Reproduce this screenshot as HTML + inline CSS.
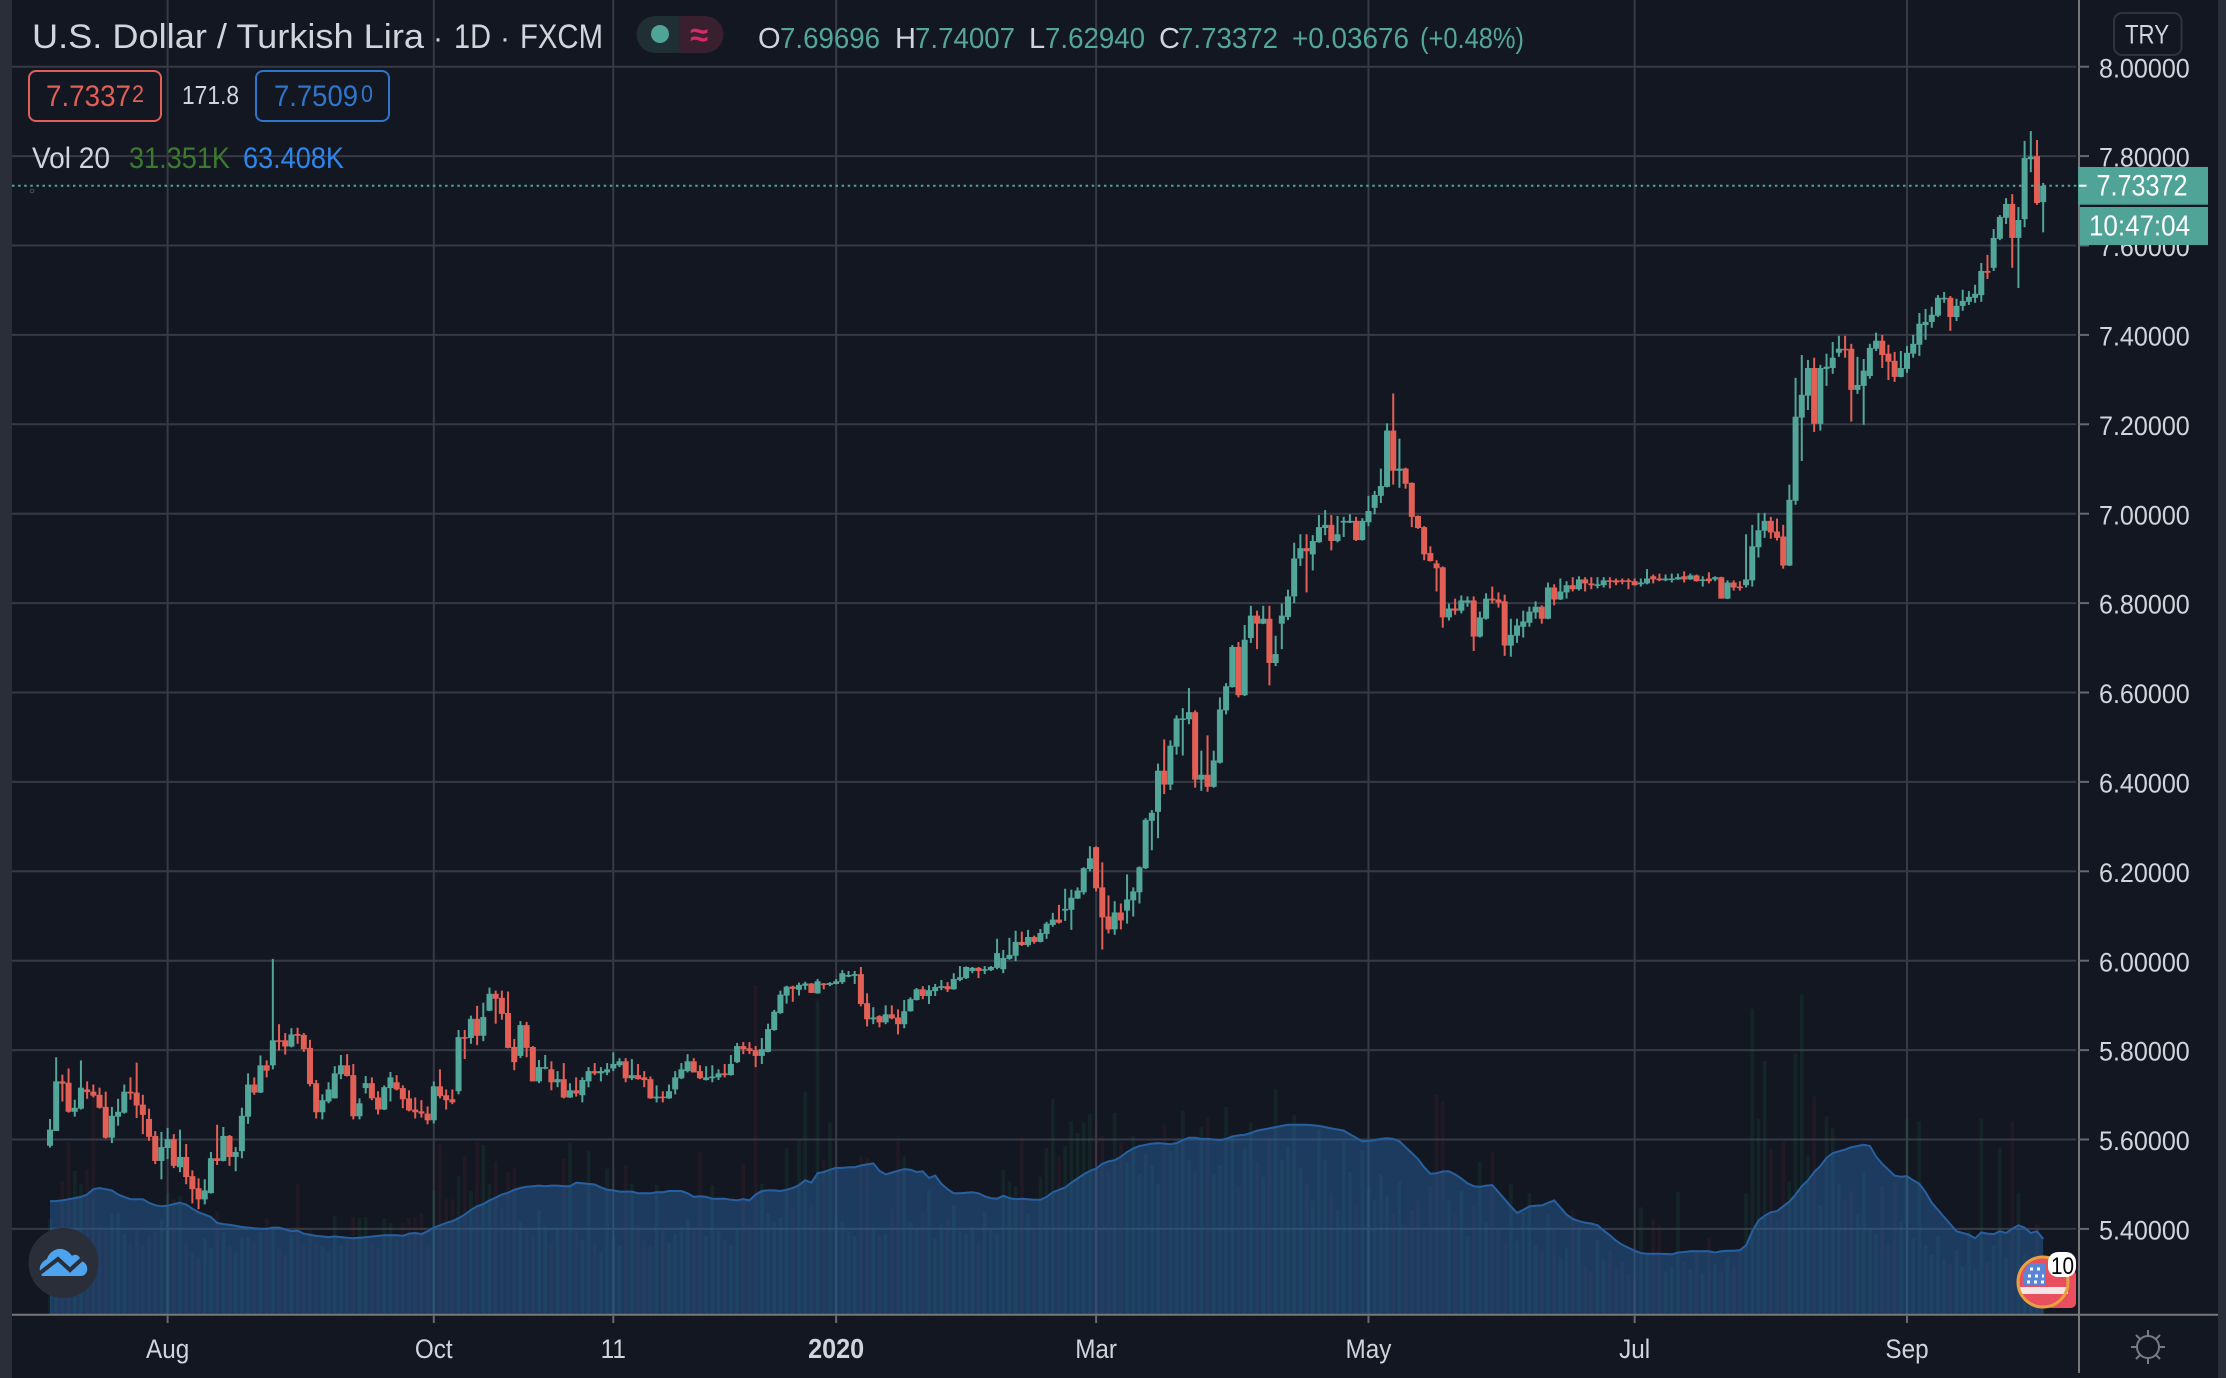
<!DOCTYPE html>
<html lang="en">
<head>
<meta charset="utf-8">
<title>U.S. Dollar / Turkish Lira 1D FXCM</title>
<style>
html,body{margin:0;padding:0;background:#131722;width:2226px;height:1378px;overflow:hidden}
svg{display:block;position:absolute;left:0;top:0}
text{font-family:"Liberation Sans",sans-serif;fill:#d1d4dc}
</style>
</head>
<body>
<svg id="chart" xmlns="http://www.w3.org/2000/svg" width="2226" height="1378" viewBox="0 0 2226 1378">
  <rect x="0" y="0" width="2226" height="1378" fill="#131722"/>
  <rect x="0" y="0" width="12" height="1378" fill="#2a2e39"/>
  <rect x="2218" y="0" width="8" height="1378" fill="#2a2e39"/>
  <g id="grid"></g>
  <g id="volumes"></g>
  <path id="maArea" fill="#2b69aa" fill-opacity="0.45"/>
  <path id="maLine" fill="none" stroke="#27609f" stroke-width="2"/>
  <g id="candles"></g>
  <line id="lastLine" x1="12" x2="2079" stroke="#4fa397" stroke-width="2" stroke-dasharray="2.5 3.6"/>
  <circle cx="32" cy="191" r="1.8" fill="none" stroke="#4a4e5a" stroke-width="1"/>

  <line x1="2079" y1="0" x2="2079" y2="1373" stroke="#787878" stroke-width="2"/>
  <line x1="12" y1="1314.7" x2="2218" y2="1314.7" stroke="#787878" stroke-width="2"/>
  <g id="priceAxis"></g>
  <g id="timeAxis"></g>

  <!-- legend -->
  <g>
    <text x="32" y="48" font-size="34" textLength="392" lengthAdjust="spacingAndGlyphs" fill="#dcdde2">U.S. Dollar / Turkish Lira</text>
    <text x="433" y="48" font-size="30" fill="#70747f">·</text>
    <text x="454" y="48" font-size="34" textLength="37" lengthAdjust="spacingAndGlyphs" fill="#dcdde2">1D</text>
    <text x="500" y="48" font-size="30" fill="#70747f">·</text>
    <text x="520" y="48" font-size="34" textLength="83" lengthAdjust="spacingAndGlyphs" fill="#dcdde2">FXCM</text>

    <path d="M679 16H655a18.500 18.500 0 0 0 0 37H679Z" fill="#1f2f34"/>
    <path d="M679 16H705a18.500 18.500 0 0 1 0 37H679Z" fill="#38202f"/>
    <circle cx="660" cy="34" r="9" fill="#4fa397"/>
    <text x="699" y="46" font-size="33" font-weight="bold" text-anchor="middle" style="fill:#d42a66">≈</text>

    <text x="758" y="48" font-size="29" fill="#d1d4dc">O</text>
    <text x="780" y="48" font-size="29" textLength="100" lengthAdjust="spacingAndGlyphs" style="fill:#53a69a">7.69696</text>
    <text x="895" y="48" font-size="29" fill="#d1d4dc">H</text>
    <text x="915" y="48" font-size="29" textLength="100" lengthAdjust="spacingAndGlyphs" style="fill:#53a69a">7.74007</text>
    <text x="1029" y="48" font-size="29" fill="#d1d4dc">L</text>
    <text x="1045" y="48" font-size="29" textLength="100" lengthAdjust="spacingAndGlyphs" style="fill:#53a69a">7.62940</text>
    <text x="1159" y="48" font-size="29" fill="#d1d4dc">C</text>
    <text x="1178" y="48" font-size="29" textLength="100" lengthAdjust="spacingAndGlyphs" style="fill:#53a69a">7.73372</text>
    <text x="1292" y="48" font-size="29" textLength="117" lengthAdjust="spacingAndGlyphs" style="fill:#53a69a">+0.03676</text>
    <text x="1420" y="48" font-size="29" textLength="104" lengthAdjust="spacingAndGlyphs" style="fill:#53a69a">(+0.48%)</text>

    <rect x="29" y="71" width="132" height="50" rx="7" fill="#131722" stroke="#e25f56" stroke-width="2"/>
    <text x="46" y="106" font-size="30" textLength="85" lengthAdjust="spacingAndGlyphs" style="fill:#e25f56">7.7337</text>
    <text x="132" y="102" font-size="24" textLength="12" lengthAdjust="spacingAndGlyphs" style="fill:#e25f56">2</text>
    <text x="182" y="104" font-size="26" textLength="57" lengthAdjust="spacingAndGlyphs" fill="#d1d4dc">171.8</text>
    <rect x="256" y="71" width="133" height="50" rx="7" fill="#131722" stroke="#2f75c9" stroke-width="2"/>
    <text x="274" y="106" font-size="30" textLength="84" lengthAdjust="spacingAndGlyphs" style="fill:#2f75c9">7.7509</text>
    <text x="361" y="102" font-size="24" textLength="12" lengthAdjust="spacingAndGlyphs" style="fill:#2f75c9">0</text>

    <text x="32" y="168" font-size="30" textLength="78" lengthAdjust="spacingAndGlyphs" fill="#dcdde2">Vol 20</text>
    <text x="129" y="168" font-size="30" textLength="101" lengthAdjust="spacingAndGlyphs" style="fill:#3c7a2e">31.351K</text>
    <text x="243" y="168" font-size="30" textLength="101" lengthAdjust="spacingAndGlyphs" style="fill:#2f86ea">63.408K</text>
  </g>

  <!-- currency button -->
  <rect x="2114" y="13" width="67.500" height="42" rx="8" fill="#131722" stroke="#2f3341" stroke-width="2"/>
  <text x="2125" y="43.500" font-size="27" textLength="44" lengthAdjust="spacingAndGlyphs" fill="#d1d4dc">TRY</text>

  <!-- last price + countdown badges -->
  <rect x="2078" y="167" width="130" height="37.700" fill="#4fa397"/>
  <rect x="2079" y="184.700" width="7.500" height="2" fill="#ffffff"/>
  <text x="2096.500" y="195.500" font-size="30" textLength="91" lengthAdjust="spacingAndGlyphs" style="fill:#ffffff">7.73372</text>
  <rect x="2080" y="207" width="128" height="38" fill="#4fa397"/>
  <text x="2089" y="235.500" font-size="29" textLength="101" lengthAdjust="spacingAndGlyphs" style="fill:#ffffff">10:47:04</text>

  <!-- tradingview logo -->
  <g>
    <circle cx="63.500" cy="1263" r="35" fill="#2a2e39"/>
    <path d="M42 1276C38 1270 39 1263 47 1259C49 1252 56 1248 62 1249C67 1250 70 1253 72 1256C76 1253 80 1256 81 1261C86 1262 88 1267 87 1271C86 1274 84 1276 81 1276Z" fill="#4ea3ee"/>
    <path d="M40 1273L58 1259L70 1270L82 1259" fill="none" stroke="#2a2e39" stroke-width="4"/>
  </g>

  <!-- economic event icon -->
  <g>
    <rect x="2046" y="1270" width="30" height="38" rx="5" fill="#e8505f"/>
    <circle cx="2043" cy="1282" r="25" fill="#e8505f"/>
    <rect x="2020" y="1287" width="48" height="7" fill="#f4e6e6"/>
    <path d="M2045 1263H2030C2025 1268 2022 1275 2023 1285H2045Z" fill="#5a86d6"/>
    <path d="M2030 1269H2044M2028 1276H2044M2027 1282H2044" stroke="#ffffff" stroke-width="3" stroke-dasharray="3 4" fill="none"/>
    <circle cx="2043" cy="1282" r="25" fill="none" stroke="#e8a13c" stroke-width="3"/>
    <rect x="2048" y="1252" width="28" height="25" rx="10" fill="#ffffff"/>
    <text x="2051" y="1274" font-size="24" textLength="23" lengthAdjust="spacingAndGlyphs" style="fill:#000000">10</text>
  </g>

  <!-- settings sun icon -->
  <g fill="none" stroke="#787b86" stroke-width="2">
    <circle cx="2148" cy="1347" r="11"/>
    <path d="M2148 1330V1336M2148 1358V1364M2131 1347H2137M2159 1347H2165M2136 1335L2140 1339M2156 1355L2160 1359M2160 1335L2156 1339M2140 1355L2136 1359"/>
  </g>
</svg>

<script>
// ---- chart data (prices in TRY, volumes in thousands) ----
const opens = [
5.586,5.619,5.730,5.727,5.662,5.669,5.712,5.707,5.700,5.673,
5.604,5.651,5.660,5.707,5.705,5.678,5.646,5.608,5.552,5.581,
5.601,5.538,5.561,5.518,5.491,5.466,5.480,5.558,5.552,5.608,
5.561,5.574,5.651,5.723,5.705,5.766,5.766,5.822,5.822,5.808,
5.836,5.834,5.805,5.726,5.661,5.685,5.692,5.746,5.766,5.744,
5.652,5.715,5.726,5.694,5.667,5.715,5.728,5.715,5.692,5.667,
5.663,5.658,5.643,5.719,5.699,5.690,5.708,5.829,5.827,5.870,
5.832,5.888,5.926,5.917,5.883,5.807,5.787,5.856,5.807,5.730,
5.759,5.757,5.728,5.735,5.694,5.710,5.699,5.730,5.753,5.748,
5.750,5.759,5.766,5.775,5.737,5.744,5.739,5.735,5.692,5.696,
5.692,5.712,5.737,5.753,5.775,5.753,5.733,5.737,5.739,5.748,
5.744,5.773,5.809,5.804,5.800,5.787,5.796,5.845,5.883,5.922,
5.942,5.935,5.944,5.949,5.927,5.949,5.946,5.948,5.952,5.965,
5.966,5.970,5.905,5.869,5.876,5.862,5.880,5.873,5.858,5.887,
5.912,5.936,5.921,5.932,5.939,5.943,5.936,5.957,5.961,5.977,
5.984,5.979,5.979,5.984,5.981,6.004,6.011,6.042,6.035,6.053,
6.042,6.060,6.080,6.092,6.112,6.114,6.139,6.153,6.205,6.254,
6.164,6.099,6.070,6.108,6.112,6.135,6.153,6.207,6.313,6.333,
6.425,6.394,6.479,6.541,6.540,6.556,6.405,6.416,6.389,6.443,
6.560,6.612,6.702,6.594,6.722,6.772,6.754,6.765,6.666,6.754,
6.769,6.815,6.900,6.923,6.909,6.936,6.968,6.975,6.939,6.980,
6.980,6.984,6.941,6.981,7.013,7.040,7.060,7.186,7.096,7.101,
7.069,6.995,6.970,6.912,6.889,6.880,6.768,6.788,6.783,6.801,
6.806,6.725,6.765,6.810,6.808,6.804,6.705,6.727,6.747,6.756,
6.779,6.792,6.765,6.835,6.808,6.824,6.840,6.831,6.853,6.844,
6.840,6.840,6.851,6.851,6.851,6.851,6.849,6.842,6.844,6.860,
6.855,6.851,6.853,6.853,6.860,6.853,6.862,6.851,6.855,6.853,
6.858,6.810,6.846,6.837,6.840,6.851,6.925,6.962,6.984,6.960,
6.949,6.884,7.029,7.215,7.264,7.326,7.201,7.324,7.326,7.360,
7.369,7.369,7.277,7.286,7.308,7.369,7.387,7.358,7.342,7.306,
7.324,7.358,7.378,7.422,7.429,7.443,7.481,7.483,7.440,7.465,
7.474,7.483,7.489,7.543,7.550,7.615,7.662,7.693,7.617,7.659,
7.793,7.800,7.69696];
const highs = [
5.646,5.784,5.745,5.759,5.689,5.777,5.730,5.723,5.716,5.707,
5.673,5.691,5.723,5.739,5.772,5.700,5.669,5.619,5.617,5.626,
5.612,5.622,5.590,5.531,5.513,5.511,5.572,5.633,5.628,5.610,
5.583,5.671,5.748,5.739,5.788,5.777,6.004,5.858,5.838,5.849,
5.850,5.838,5.823,5.733,5.701,5.728,5.764,5.789,5.791,5.769,
5.692,5.742,5.739,5.708,5.721,5.751,5.744,5.721,5.710,5.694,
5.688,5.674,5.730,5.757,5.712,5.712,5.845,5.845,5.877,5.899,
5.906,5.940,5.933,5.933,5.931,5.825,5.865,5.863,5.809,5.778,
5.789,5.775,5.753,5.771,5.726,5.739,5.739,5.762,5.771,5.762,
5.771,5.795,5.782,5.782,5.780,5.769,5.753,5.741,5.721,5.708,
5.723,5.753,5.771,5.791,5.782,5.766,5.764,5.766,5.757,5.769,
5.789,5.816,5.818,5.818,5.809,5.827,5.859,5.890,5.933,5.944,
5.944,5.951,5.953,5.950,5.959,5.950,5.952,5.959,5.979,5.977,
5.977,5.986,5.927,5.896,5.878,5.900,5.900,5.891,5.912,5.918,
5.939,5.943,5.945,5.948,5.957,5.952,5.972,5.988,5.987,5.986,
5.986,5.988,5.988,6.049,6.024,6.051,6.067,6.065,6.069,6.056,
6.071,6.087,6.107,6.125,6.161,6.159,6.164,6.209,6.256,6.256,
6.220,6.146,6.133,6.128,6.193,6.164,6.211,6.319,6.337,6.441,
6.495,6.493,6.549,6.565,6.610,6.560,6.470,6.504,6.470,6.589,
6.621,6.706,6.713,6.751,6.794,6.783,6.794,6.794,6.727,6.799,
6.830,6.935,6.954,6.954,6.952,6.997,7.008,6.997,6.995,6.993,
6.999,6.993,6.990,7.040,7.051,7.101,7.202,7.269,7.168,7.103,
7.070,6.996,6.972,6.927,6.896,6.882,6.799,6.810,6.817,6.815,
6.815,6.781,6.822,6.837,6.824,6.819,6.765,6.765,6.783,6.792,
6.804,6.795,6.846,6.842,6.855,6.849,6.858,6.860,6.858,6.858,
6.858,6.858,6.858,6.855,6.855,6.855,6.855,6.855,6.876,6.864,
6.866,6.864,6.866,6.866,6.871,6.866,6.864,6.860,6.869,6.860,
6.859,6.851,6.851,6.849,6.954,6.975,7.002,7.002,6.993,6.989,
6.975,7.065,7.304,7.355,7.344,7.349,7.333,7.358,7.384,7.398,
7.398,7.380,7.351,7.346,7.380,7.405,7.400,7.378,7.362,7.364,
7.375,7.400,7.449,7.458,7.463,7.489,7.496,7.487,7.481,7.501,
7.498,7.512,7.561,7.579,7.637,7.668,7.706,7.715,7.686,7.834,
7.856,7.836,7.74007];
const lows = [
5.582,5.619,5.685,5.660,5.651,5.667,5.691,5.694,5.669,5.602,
5.592,5.631,5.658,5.689,5.648,5.612,5.597,5.545,5.511,5.556,
5.536,5.527,5.500,5.457,5.444,5.455,5.479,5.543,5.551,5.541,
5.529,5.558,5.635,5.700,5.704,5.739,5.757,5.799,5.790,5.806,
5.814,5.796,5.719,5.647,5.645,5.681,5.692,5.735,5.741,5.645,
5.645,5.703,5.688,5.656,5.666,5.685,5.710,5.670,5.663,5.647,
5.649,5.634,5.636,5.692,5.667,5.679,5.701,5.780,5.814,5.811,
5.820,5.887,5.859,5.868,5.804,5.755,5.782,5.784,5.730,5.726,
5.757,5.710,5.717,5.692,5.693,5.696,5.683,5.717,5.744,5.730,
5.744,5.753,5.762,5.728,5.733,5.734,5.717,5.691,5.683,5.683,
5.691,5.701,5.735,5.750,5.750,5.735,5.732,5.728,5.733,5.739,
5.743,5.771,5.791,5.791,5.762,5.769,5.795,5.843,5.881,5.904,
5.908,5.922,5.935,5.928,5.926,5.936,5.943,5.947,5.948,5.963,
5.948,5.898,5.853,5.858,5.851,5.858,5.869,5.835,5.849,5.886,
5.911,5.914,5.903,5.921,5.934,5.930,5.935,5.954,5.959,5.972,
5.961,5.970,5.977,5.981,5.972,6.002,5.999,6.033,6.031,6.038,
6.041,6.049,6.076,6.083,6.089,6.069,6.138,6.148,6.200,6.155,
6.025,6.061,6.058,6.070,6.083,6.099,6.128,6.205,6.247,6.274,
6.373,6.382,6.461,6.459,6.529,6.387,6.380,6.378,6.387,6.441,
6.551,6.611,6.589,6.592,6.711,6.697,6.753,6.616,6.659,6.697,
6.762,6.800,6.883,6.824,6.873,6.935,6.952,6.918,6.936,6.948,
6.979,6.939,6.940,6.972,6.999,7.024,7.059,7.065,7.058,7.056,
6.970,6.966,6.896,6.893,6.826,6.745,6.761,6.774,6.777,6.792,
6.693,6.723,6.763,6.799,6.790,6.682,6.680,6.711,6.723,6.747,
6.765,6.754,6.764,6.795,6.807,6.810,6.826,6.828,6.826,6.831,
6.833,6.835,6.833,6.840,6.842,6.831,6.839,6.837,6.842,6.844,
6.849,6.849,6.846,6.852,6.846,6.852,6.848,6.837,6.844,6.849,
6.810,6.809,6.828,6.828,6.835,6.837,6.902,6.946,6.944,6.940,
6.877,6.883,7.020,7.118,7.232,7.183,7.186,7.286,7.313,7.351,
7.349,7.206,7.268,7.199,7.302,7.364,7.326,7.299,7.295,7.305,
7.315,7.349,7.353,7.389,7.416,7.440,7.472,7.409,7.431,7.454,
7.467,7.472,7.474,7.525,7.543,7.612,7.648,7.550,7.505,7.641,
7.764,7.691,7.6294];
const closes = [
5.622,5.730,5.725,5.662,5.671,5.716,5.706,5.698,5.671,5.604,
5.653,5.662,5.707,5.703,5.676,5.655,5.606,5.552,5.583,5.601,
5.541,5.561,5.516,5.489,5.466,5.486,5.558,5.552,5.608,5.561,
5.572,5.653,5.723,5.705,5.766,5.754,5.822,5.820,5.808,5.835,
5.832,5.802,5.724,5.661,5.688,5.712,5.748,5.766,5.742,5.652,
5.681,5.726,5.692,5.667,5.717,5.739,5.712,5.690,5.665,5.661,
5.658,5.643,5.719,5.697,5.688,5.683,5.829,5.827,5.870,5.832,
5.874,5.926,5.915,5.881,5.805,5.773,5.856,5.805,5.730,5.762,
5.762,5.728,5.735,5.694,5.710,5.703,5.733,5.753,5.748,5.753,
5.757,5.769,5.775,5.737,5.744,5.735,5.733,5.692,5.696,5.694,
5.708,5.739,5.757,5.775,5.750,5.737,5.739,5.741,5.748,5.744,
5.769,5.809,5.802,5.798,5.787,5.802,5.847,5.886,5.924,5.942,
5.937,5.946,5.949,5.928,5.954,5.946,5.950,5.954,5.972,5.968,
5.970,5.903,5.869,5.873,5.862,5.880,5.871,5.858,5.887,5.914,
5.936,5.921,5.934,5.941,5.943,5.936,5.959,5.963,5.986,5.984,
5.977,5.981,5.986,6.017,6.006,6.013,6.042,6.035,6.053,6.042,
6.062,6.083,6.092,6.085,6.116,6.141,6.157,6.207,6.229,6.162,
6.097,6.070,6.108,6.090,6.137,6.155,6.209,6.315,6.331,6.425,
6.394,6.481,6.542,6.542,6.556,6.405,6.416,6.389,6.448,6.562,
6.614,6.702,6.594,6.718,6.772,6.754,6.765,6.666,6.686,6.772,
6.815,6.900,6.923,6.916,6.939,6.970,6.975,6.939,6.954,6.984,
6.984,6.941,6.984,7.006,7.042,7.062,7.186,7.096,7.101,7.067,
6.993,6.968,6.909,6.894,6.878,6.768,6.788,6.783,6.806,6.806,
6.725,6.768,6.810,6.806,6.801,6.705,6.729,6.750,6.759,6.781,
6.792,6.765,6.835,6.808,6.826,6.840,6.831,6.853,6.844,6.840,
6.842,6.851,6.849,6.846,6.849,6.849,6.840,6.846,6.855,6.853,
6.851,6.855,6.855,6.858,6.853,6.862,6.849,6.853,6.849,6.858,
6.810,6.846,6.835,6.834,6.853,6.927,6.963,6.984,6.958,6.946,
6.884,7.031,7.217,7.266,7.326,7.201,7.326,7.329,7.349,7.369,
7.367,7.277,7.288,7.320,7.371,7.387,7.355,7.340,7.306,7.326,
7.360,7.380,7.425,7.429,7.445,7.483,7.483,7.440,7.465,7.476,
7.485,7.492,7.543,7.539,7.617,7.664,7.693,7.617,7.657,7.796,
7.799,7.695,7.73372];
const volumes = [
80,62,112,145,121,110,122,184,75,70,85,85,68,60,72,58,66,70,80,102,
97,100,60,52,48,64,56,87,69,58,52,64,65,60,69,81,72,55,50,67,
110,58,72,60,57,52,83,58,62,82,81,82,60,55,81,77,62,77,81,82,
85,58,104,143,97,97,117,133,104,145,143,110,129,90,120,123,78,70,66,88,
74,60,72,131,145,70,62,138,60,52,123,66,58,126,110,75,62,58,109,72,
60,68,74,80,70,137,66,109,70,62,58,72,127,75,278,110,85,78,82,140,
90,147,188,92,265,130,162,84,78,70,66,133,132,72,66,68,90,146,133,78,
72,86,104,64,76,80,92,70,68,74,60,86,72,68,122,112,108,149,84,72,
116,140,182,133,142,163,153,162,169,163,151,120,170,145,128,150,118,136,125,110,
160,138,148,172,130,120,158,166,118,126,175,150,108,140,162,128,116,147,190,130,
142,168,124,110,96,156,130,102,88,146,120,92,138,108,96,118,100,84,112,74,
88,96,70,108,186,179,96,84,104,66,92,129,78,137,72,60,110,62,86,102,
58,52,84,72,48,56,88,74,40,36,62,46,54,38,44,34,30,90,50,80,
75,36,40,103,44,38,52,34,64,42,36,48,40,54,102,258,165,214,139,80,
146,112,220,270,134,184,92,167,157,110,96,104,84,120,72,68,108,60,112,78,
165,64,163,58,50,66,46,42,54,40,70,38,165,44,58,140,48,163,102,50,36,76,31.351];
const volumeMA = [
95.3,95.5,96,97,98,99,101,105.5,106.5,105.5,
104.5,101,99,97,97,97,94,92,91,91.5,
93,94,92.5,89,86,84,82,77,76,75.5,
74.5,73.5,73,72.5,72,72,73,73,71.5,70,
70.5,68,67,66,65.5,65,65.5,65,64.5,64,
64.5,65,65.5,66,66.5,66.5,66.5,66,68,68.5,
67.5,70,73,75,77,78.5,81,84,88,91,
93,96,98.5,101,102.5,105,106.5,107.5,108,108.5,
108,108.5,108.5,108,108,111,110.5,110,109.5,107,
105,104.5,103.5,103.5,103.5,102,102,102,103,103,
104,104,104,102,99,99.5,99,97.5,97.5,97.5,
96.5,96,97,96,101,104,104.5,104.5,104,105,
106.5,109,113,111,119,120,122,123.5,123.5,124,
124,125.5,126.5,127.3,121,118,119.5,121,122.5,122,
120,120.5,115,117,110,105.5,102,102,102.5,103,
102,99.5,98,97.5,100,98,97,97.5,97,96.5,
96.5,99,103,105,107,111,114.5,118,121,123,
127,129,130,133,137,140,142,143,144,144.5,
144,143.5,144.5,147,149,149,148,148,147.5,147,
148,150,151,151.5,153,155,156,157,158,159,
160,160,160,160,159.5,159,158,157,156,155,
152,149,146,146.5,147,148,148.5,148,146,141,
136,131,124,118.5,119,120.5,120.5,118,114.5,110.5,
108,107.5,108.5,109,103,97,91,85.5,88,91,
91.5,91.8,94,96,90,84,80.5,78.5,77.2,76.5,
75,70.5,66.5,62,58.5,56,53.5,51.5,51,51,
51,50.7,50.5,52,52.4,53,53,53,53,52,
53,53.5,53.5,54,58,70,79,83,86,87,
91,95,101,108,113,120,125,132,136,137.5,
139,141,142,143,142,133,127,122,117,116,
116.5,113,110,103,94,88,82,76,70,68.5,
67,64,69,68,67.5,70,68.5,72,75,73,68.5,70,63.408];
const priceTicks = [8.0,7.8,7.6,7.4,7.2,7.0,6.8,6.6,6.4,6.2,6.0,5.8,5.6,5.4];
const priceTickLabels = ["8.00000","7.80000","7.60000","7.40000","7.20000","7.00000","6.80000","6.60000","6.40000","6.20000","6.00000","5.80000","5.60000","5.40000"];
const timeTickBars = [19,62,91,127,169,213,256,300];
const timeTickLabels = ["Aug","Oct","11","2020","Mar","May","Jul","Sep"];
const lastPrice = 7.73372;

// ---- axis functions ----
const SVG_NS = "http://www.w3.org/2000/svg";
function xBar(i){ return 50 + 6.19 * i; }
function yPrice(p){ return 66.7 + (8 - p) * 447; }
function yVolume(v){ return 1314 - v * 1.183; }

function make(tag, attrs, parent){
  const el = document.createElementNS(SVG_NS, tag);
  for (const k in attrs) el.setAttribute(k, attrs[k]);
  parent.appendChild(el);
  return el;
}

const GREEN = "#52a599", RED = "#e25f56", GRID = "#363a45";
const gridG = document.getElementById("grid");
const volG = document.getElementById("volumes");
const candleG = document.getElementById("candles");
const priceAxisG = document.getElementById("priceAxis");
const timeAxisG = document.getElementById("timeAxis");

// grid + price axis
priceTicks.forEach(function(p, k){
  const y = yPrice(p);
  const line = make("line", {x1:12, x2:2076, y1:y, y2:y, stroke:GRID, "stroke-width":2}, gridG);
  
  
  const tick = make("line", {x1:2079, x2:2089, y1:y, y2:y, stroke:"#666a72", "stroke-width":2}, priceAxisG);
  
  
  const label = make("text", {transform:"translate(2099," + (y + 10.6) + ") scale(0.93,1)", "font-size":27, fill:"#d6d7da"}, priceAxisG);
  
  
  label.textContent = priceTickLabels[k];
});

// grid + time axis
timeTickBars.forEach(function(b, k){
  const x = xBar(b);
  const line = make("line", {x1:x, x2:x, y1:0, y2:1314, stroke:GRID, "stroke-width":2}, gridG);
  
  
  const tick = make("line", {x1:x, x2:x, y1:1315, y2:1323, stroke:"#666a72", "stroke-width":2}, timeAxisG);
  
  
  const isYear = timeTickLabels[k] === "2020";
  const label = make("text", {transform:"translate(" + x + ",1358) scale(0.9,1)", "font-size":isYear ? 28 : 27, "text-anchor":"middle", "font-weight":isYear ? "bold" : "normal", fill:"#d6d7da"}, timeAxisG);
  
  
  label.textContent = timeTickLabels[k];
});

// volume bars
volumes.forEach(function(v, i){
  const up = closes[i] >= opens[i];
  const y = yVolume(v);
  const bar = make("rect", {x:xBar(i) - 1.8, y:y, width:3.6, height:1314 - y, fill:up ? "#1d6a48" : "#6b2a33", "fill-opacity":0.17}, volG);
  
  
});

// volume moving average
let lineD = "";
volumeMA.forEach(function(v, i){
  lineD += (i ? "L" : "M") + xBar(i).toFixed(1) + " " + yVolume(v).toFixed(1);
});
document.getElementById("maLine").setAttribute("d", lineD);
document.getElementById("maArea").setAttribute("d", lineD + "L" + xBar(volumeMA.length - 1).toFixed(1) + " 1314L" + xBar(0).toFixed(1) + " 1314Z");

// candles
opens.forEach(function(o, i){
  const c = closes[i];
  const up = c >= o;
  const color = up ? GREEN : RED;
  const x = xBar(i);
  const wick = make("rect", {x:x - 1, y:yPrice(highs[i]), width:2, height:Math.max(1, yPrice(lows[i]) - yPrice(highs[i])), fill:color}, candleG);
  
  
  const top = yPrice(Math.max(o, c));
  const h = Math.max(1.6, Math.abs(yPrice(o) - yPrice(c)));
  const body = make("rect", {x:x - 3, y:top, width:6, height:h, fill:color}, candleG);
  
  
});

// last price line
const lastLine = document.getElementById("lastLine");
lastLine.setAttribute("y1", yPrice(lastPrice));
lastLine.setAttribute("y2", yPrice(lastPrice));
</script>
</body>
</html>
